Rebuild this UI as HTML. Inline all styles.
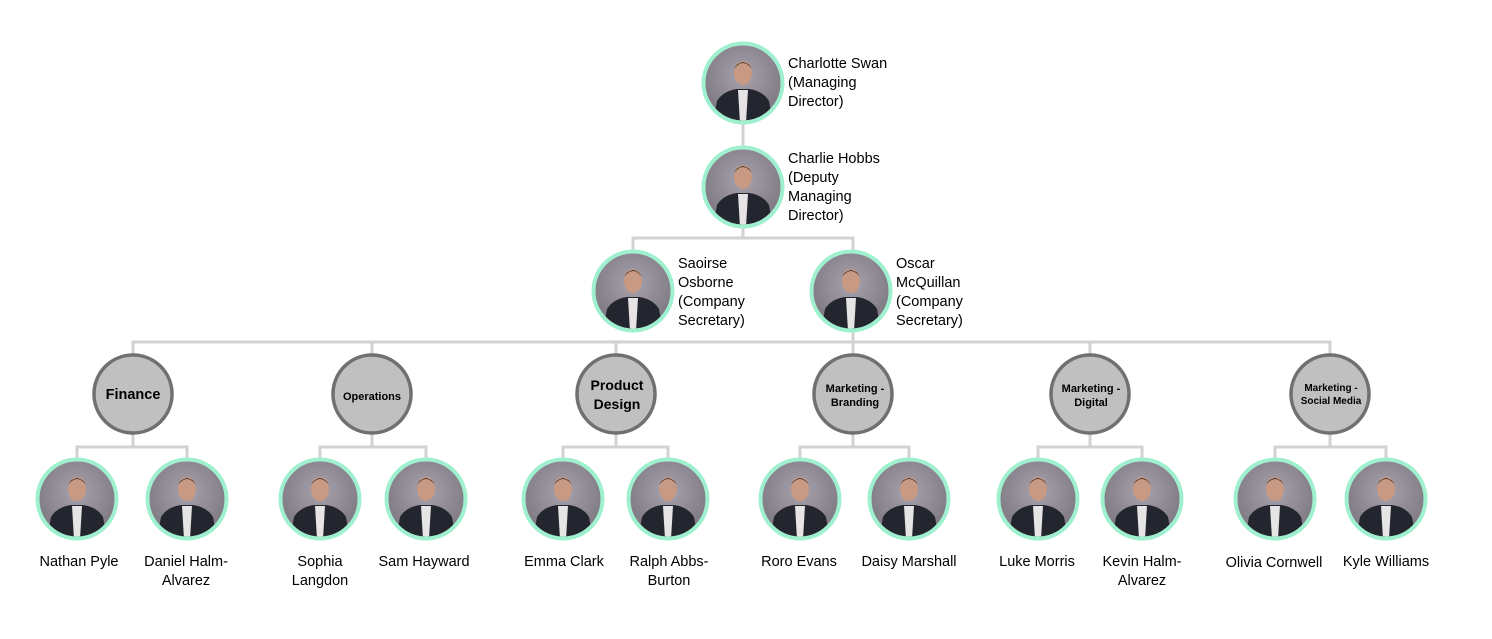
<!DOCTYPE html>
<html><head><meta charset="utf-8"><style>
html,body{margin:0;padding:0;background:#fff;}
svg{display:block;}
text{font-family:"Liberation Sans","DejaVu Sans",sans-serif;fill:#000;}
.n{font-size:14.5px;}
.d{font-weight:bold;text-anchor:middle;}
</style></head><body>
<svg width="1492" height="639" viewBox="0 0 1492 639" xmlns="http://www.w3.org/2000/svg">
<defs>
<radialGradient id="bg" cx="0.5" cy="0.4" r="0.6">
<stop offset="0" stop-color="#a8a2ac"/><stop offset="1" stop-color="#7d7882"/>
</radialGradient>
<symbol id="p" viewBox="-40 -40 80 80" overflow="visible">
<circle r="38" fill="url(#bg)"/>
<clipPath id="c"><circle r="37.5"/></clipPath>
<g clip-path="url(#c)">
<path d="M-30 40 L-26 18 Q-20 8 -6 6 L6 6 Q20 8 26 18 L30 40 Z" fill="#23262e"/>
<path d="M-5 7 L5 7 L3 40 L-3 40 Z" fill="#e6e4e4"/>
<ellipse cx="0" cy="-10" rx="9" ry="12" fill="#c89a84"/>
<path d="M-9 -14 Q0 -26 9 -14 Q6 -20 0 -21 Q-6 -20 -9 -14Z" fill="#3a2a22"/>
</g>
<circle r="39.5" fill="none" stroke="#9ff0cf" stroke-width="4"/>
</symbol>
</defs>
<g stroke="#d2d2d2" stroke-width="3" fill="none">
<line x1="743" y1="124" x2="743" y2="146"/>
<polyline points="633,252 633,238 853,238 853,252"/>
<line x1="743" y1="228" x2="743" y2="238"/>
<line x1="853" y1="330" x2="853" y2="342"/>
<polyline points="133,354 133,342 1330,342 1330,354"/>
<line x1="372" y1="342" x2="372" y2="354"/>
<line x1="616" y1="342" x2="616" y2="354"/>
<line x1="853" y1="342" x2="853" y2="354"/>
<line x1="1090" y1="342" x2="1090" y2="354"/>
<polyline points="77,459 77,447 187,447 187,459"/><line x1="133" y1="434" x2="133" y2="447"/>
<polyline points="320,459 320,447 426,447 426,459"/><line x1="372" y1="434" x2="372" y2="447"/>
<polyline points="563,459 563,447 668,447 668,459"/><line x1="616" y1="434" x2="616" y2="447"/>
<polyline points="800,459 800,447 909,447 909,459"/><line x1="853" y1="434" x2="853" y2="447"/>
<polyline points="1038,459 1038,447 1142,447 1142,459"/><line x1="1090" y1="434" x2="1090" y2="447"/>
<polyline points="1275,459 1275,447 1386,447 1386,459"/><line x1="1330" y1="434" x2="1330" y2="447"/>
</g>
<use href="#p" x="703" y="43" width="80" height="80"/>
<use href="#p" x="703" y="147" width="80" height="80"/>
<use href="#p" x="593" y="251" width="80" height="80"/>
<use href="#p" x="811" y="251" width="80" height="80"/>
<text class="n" x="788" y="68">Charlotte Swan</text>
<text class="n" x="788" y="87">(Managing</text>
<text class="n" x="788" y="106">Director)</text>
<text class="n" x="788" y="163">Charlie Hobbs</text>
<text class="n" x="788" y="182">(Deputy</text>
<text class="n" x="788" y="201">Managing</text>
<text class="n" x="788" y="220">Director)</text>
<text class="n" x="678" y="268">Saoirse</text>
<text class="n" x="678" y="287">Osborne</text>
<text class="n" x="678" y="306">(Company</text>
<text class="n" x="678" y="325">Secretary)</text>
<text class="n" x="896" y="268">Oscar</text>
<text class="n" x="896" y="287">McQuillan</text>
<text class="n" x="896" y="306">(Company</text>
<text class="n" x="896" y="325">Secretary)</text>
<g fill="#c0c0c0" stroke="#707070" stroke-width="3.5">
<circle cx="133" cy="394" r="39"/><circle cx="372" cy="394" r="39"/><circle cx="616" cy="394" r="39"/>
<circle cx="853" cy="394" r="39"/><circle cx="1090" cy="394" r="39"/><circle cx="1330" cy="394" r="39"/>
</g>
<text class="d" x="133" y="399" font-size="14.5">Finance</text>
<text class="d" x="372" y="400" font-size="11">Operations</text>
<text class="d" x="617" y="390" font-size="14">Product</text>
<text class="d" x="617" y="409" font-size="14">Design</text>
<text class="d" x="855" y="392" font-size="11">Marketing -</text>
<text class="d" x="855" y="406" font-size="11">Branding</text>
<text class="d" x="1091" y="392" font-size="11">Marketing -</text>
<text class="d" x="1091" y="406" font-size="11">Digital</text>
<text class="d" x="1331" y="391" font-size="10">Marketing -</text>
<text class="d" x="1331" y="404" font-size="10">Social Media</text>
<use href="#p" x="37" y="459" width="80" height="80"/>
<use href="#p" x="147" y="459" width="80" height="80"/>
<use href="#p" x="280" y="459" width="80" height="80"/>
<use href="#p" x="386" y="459" width="80" height="80"/>
<use href="#p" x="523" y="459" width="80" height="80"/>
<use href="#p" x="628" y="459" width="80" height="80"/>
<use href="#p" x="760" y="459" width="80" height="80"/>
<use href="#p" x="869" y="459" width="80" height="80"/>
<use href="#p" x="998" y="459" width="80" height="80"/>
<use href="#p" x="1102" y="459" width="80" height="80"/>
<use href="#p" x="1235" y="459" width="80" height="80"/>
<use href="#p" x="1346" y="459" width="80" height="80"/>
<g class="n" text-anchor="middle" font-size="14.5">
<text x="79" y="566">Nathan Pyle</text>
<text x="186" y="566">Daniel Halm-</text><text x="186" y="585">Alvarez</text>
<text x="320" y="566">Sophia</text><text x="320" y="585">Langdon</text>
<text x="424" y="566">Sam Hayward</text>
<text x="564" y="566">Emma Clark</text>
<text x="669" y="566">Ralph Abbs-</text><text x="669" y="585">Burton</text>
<text x="799" y="566">Roro Evans</text>
<text x="909" y="566">Daisy Marshall</text>
<text x="1037" y="566">Luke Morris</text>
<text x="1142" y="566">Kevin Halm-</text><text x="1142" y="585">Alvarez</text>
<text x="1274" y="567">Olivia Cornwell</text>
<text x="1386" y="566">Kyle Williams</text>
</g>
</svg>
</body></html>
